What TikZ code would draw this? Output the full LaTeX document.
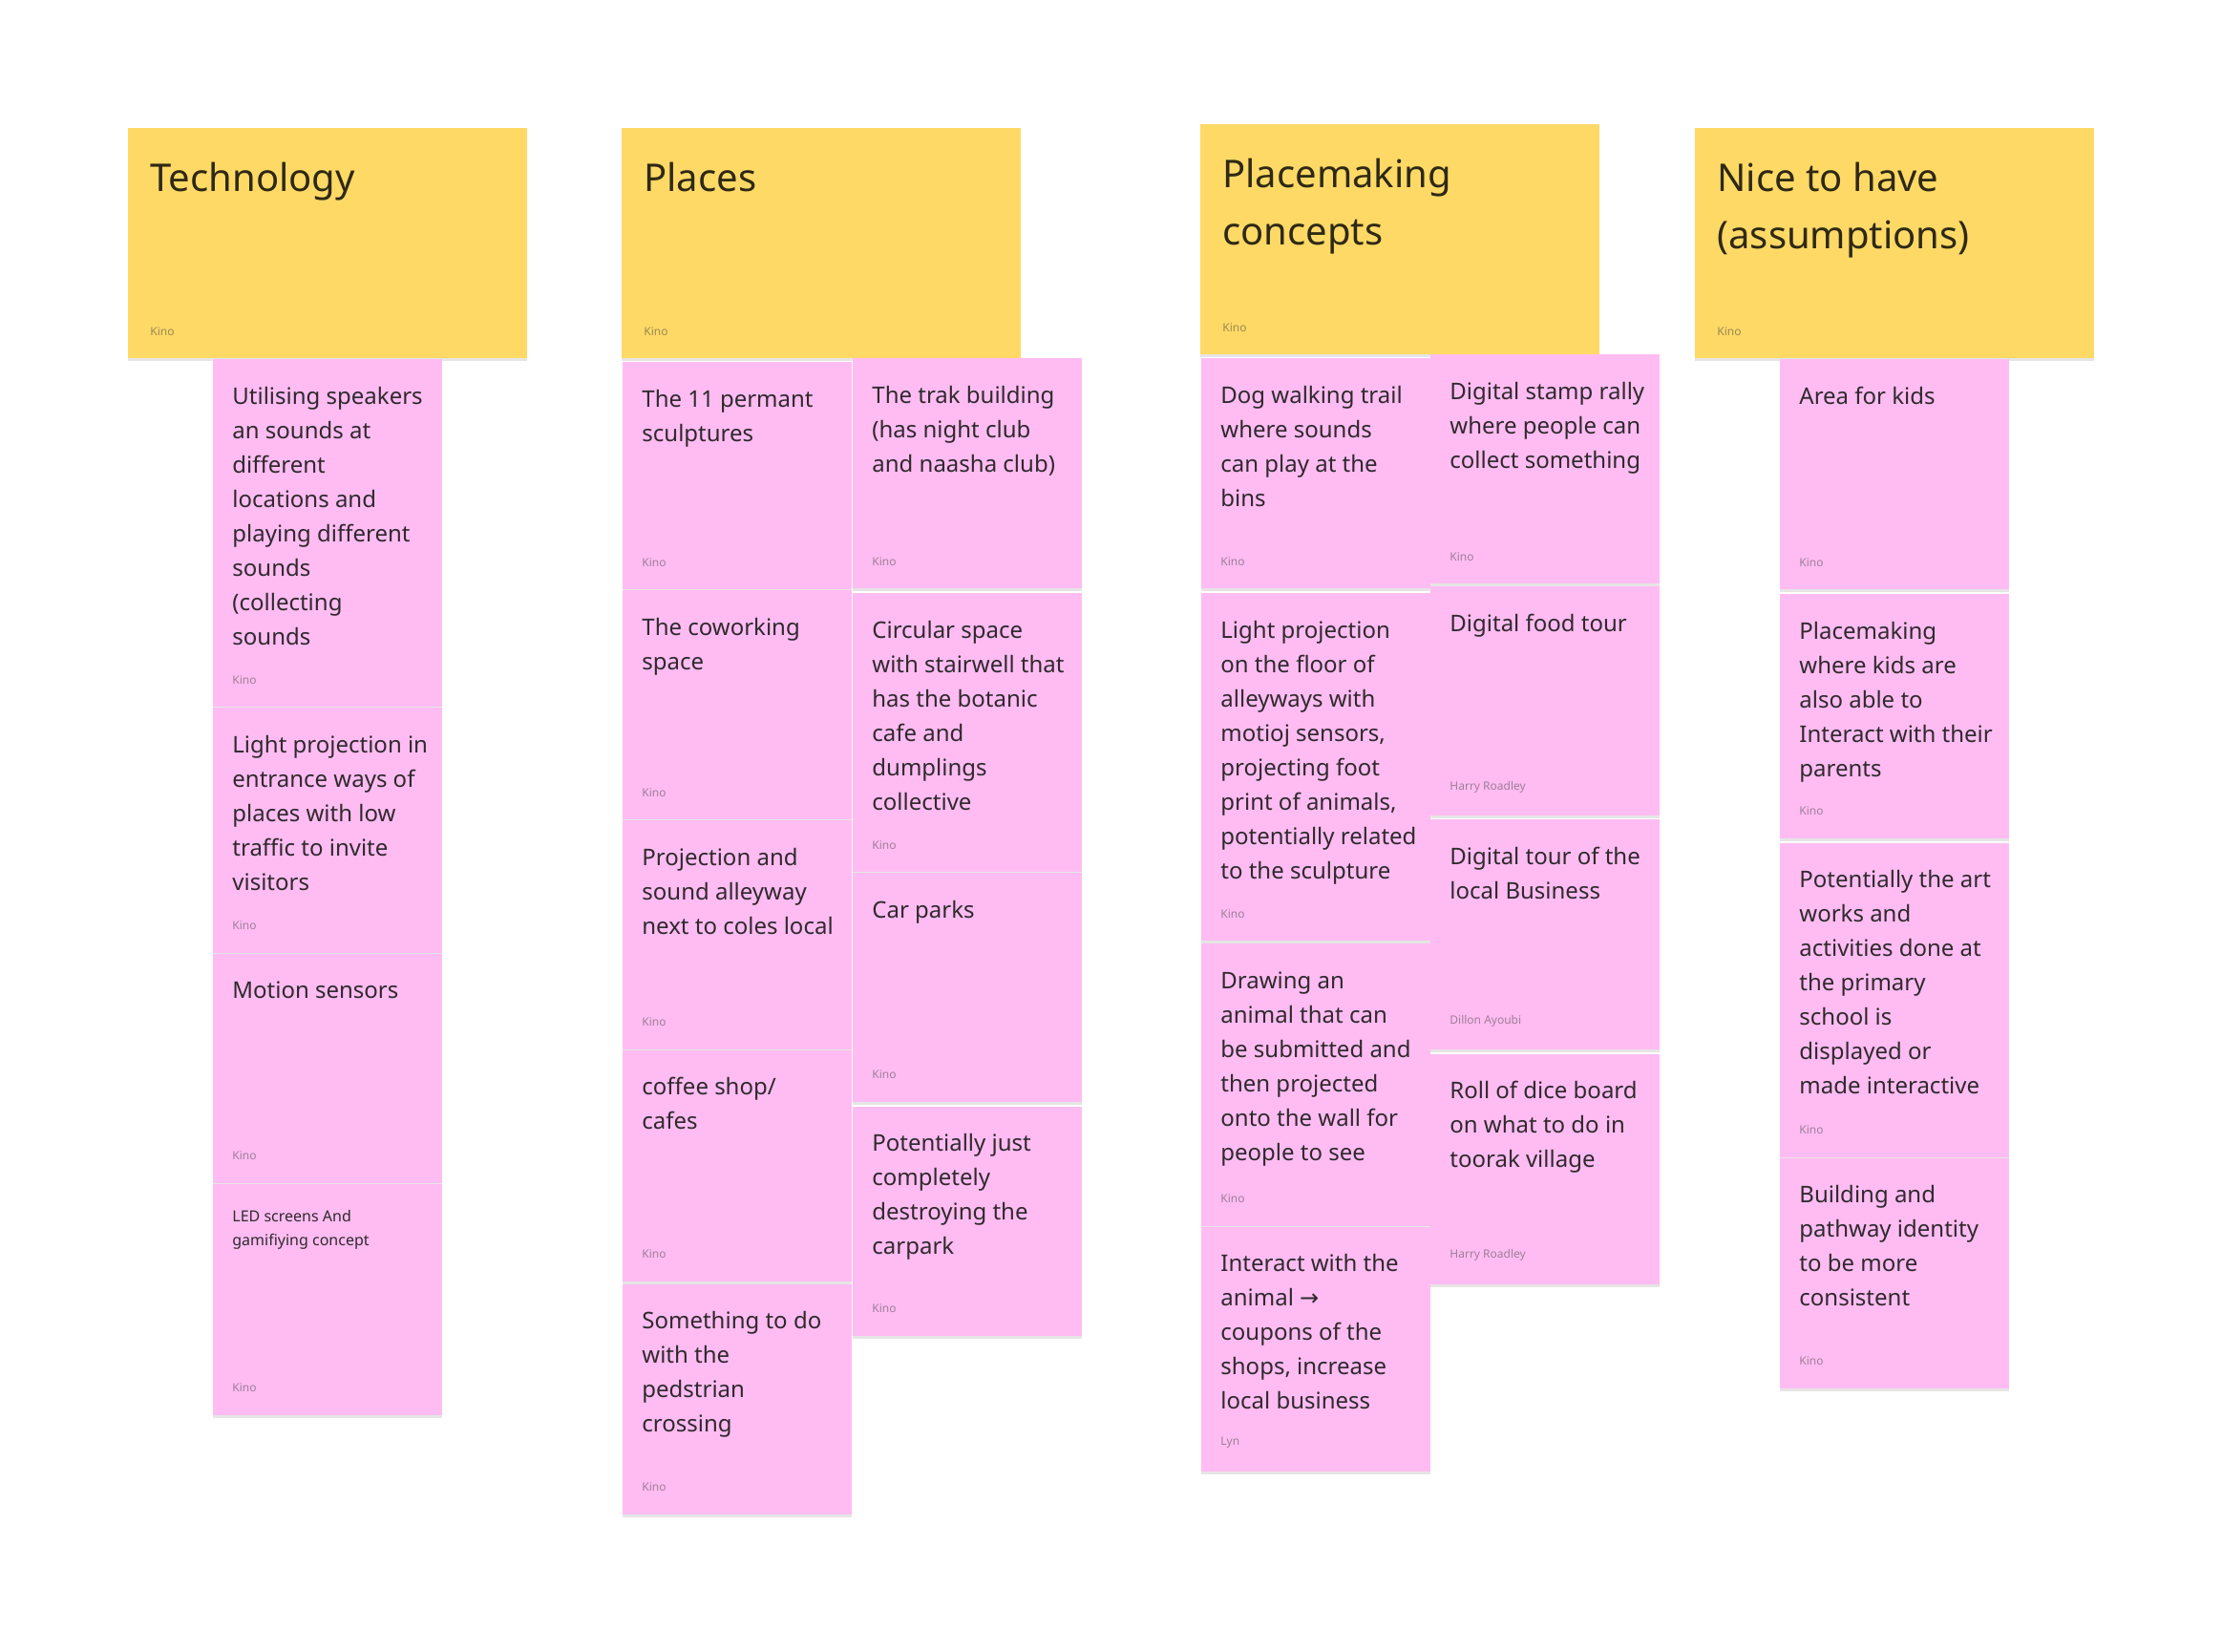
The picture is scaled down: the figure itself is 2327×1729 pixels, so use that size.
\documentclass[tikz,border=0pt]{standalone}
\usepackage{fontspec}
\setmainfont{Noto Sans}
\newfontfamily\arrowfont{DejaVu Sans}
\usetikzlibrary{positioning, shadows}
\definecolor{Sticky}{HTML}{FFD966}
\definecolor{Petal}{HTML}{FFBCF2}
\definecolor{Ink}{HTML}{2E2A2E}
\definecolor{HeadInk}{HTML}{2E2914}
\definecolor{PetalDim}{HTML}{9E7F99}
\definecolor{StickyDim}{HTML}{9A8A52}

\newcommand{\bodyfont}{\fontsize{12}{18}\selectfont}
\newcommand{\titlefont}{\fontsize{20}{30}\selectfont}
\newcommand{\whofont}{\fontsize{6}{7.5}\selectfont}
\newcommand{\ledfont}{\fontsize{8}{12.5}\selectfont}

% pink card: [first baseline]{height}{text}{author}
\newcommand{\card}[4][23.5pt]{\makebox[120pt][l]{\hspace{10pt}\parbox[b][#2][s]{108pt}{\raggedright\bodyfont\rule{0pt}{#1}#3\par\vfill{\whofont\leavevmode\color{PetalDim}#4\par}\vspace{12pt}}}}
% yellow column header: {height}{title}{author}
\newcommand{\headcard}[3]{\makebox[209pt][l]{\hspace{11.5pt}\parbox[b][#1][s]{190pt}{\raggedright\titlefont\rule{0pt}{33pt}#2\par\vfill{\whofont\leavevmode\color{StickyDim}#3\par}\vspace{12pt}}}}

\begin{document}
\begin{tikzpicture}[
    x=0.5pt, y=-0.5pt,
    headnote/.style={
        fill=Sticky,
        inner sep=0pt,
        anchor=north west,
        text=HeadInk,
        drop shadow={shadow xshift=0pt, shadow yshift=-1.5pt, opacity=0.10, fill=black}
    },
    pinknote/.style={
        fill=Petal,
        inner sep=0pt,
        anchor=north west,
        text=Ink,
        drop shadow={shadow xshift=0pt, shadow yshift=-1.5pt, opacity=0.10, fill=black}
    }
]
    \fill[white] (0,0) rectangle (2327,1729);
    \useasboundingbox (0,0) rectangle (2327,1729);

    % Technology
    \node[headnote] (tech) at (134,134) {\headcard{120.5pt}{Technology}{Kino}};
    \node[pinknote, below=0pt of tech] (t1) {\card{182pt}{Utilising speakers\\an sounds at\\different\\locations and\\playing different\\sounds\\(collecting\\sounds}{Kino}};
    \node[pinknote, below=0pt of t1] (t2) {\card{128.5pt}{Light projection in\\entrance ways of\\places with low\\traffic to invite\\visitors}{Kino}};
    \node[pinknote, below=0pt of t2] (t3) {\card{120pt}{Motion sensors}{Kino}};
    \node[pinknote, below=0pt of t3] (t4) {\card[20pt]{121pt}{\ledfont LED screens And\\gamifiying concept}{Kino}};

    % Places
    \node[headnote] (places) at (651,134) {\headcard{120.5pt}{Places}{Kino}};
    \node[pinknote] (p1) at (652,379) {\card{119pt}{The 11 permant\\sculptures}{Kino}};
    \node[pinknote, below=0pt of p1] (p2) {\card{120pt}{The coworking\\space}{Kino}};
    \node[pinknote, below=0pt of p2] (p3) {\card{120pt}{Projection and\\sound alleyway\\next to coles local}{Kino}};
    \node[pinknote, below=0pt of p3] (p4) {\card{121pt}{coffee shop/\\cafes}{Kino}};
    \node[pinknote, below=1pt of p4] (p5) {\card{120.5pt}{Something to do\\with the\\pedstrian\\crossing}{Kino}};
    \node[pinknote] (q1) at (893,375) {\card{120.5pt}{The trak building\\(has night club\\and naasha club)}{Kino}};
    \node[pinknote, below=2pt of q1] (q2) {\card{146pt}{Circular space\\with stairwell that\\has the botanic\\cafe and\\dumplings\\collective}{Kino}};
    \node[pinknote, below=0pt of q2] (q3) {\card{120pt}{Car parks}{Kino}};
    \node[pinknote, below=2pt of q3] (q4) {\card{120pt}{Potentially just\\completely\\destroying the\\carpark}{Kino}};

    % Placemaking concepts
    \node[headnote] (making) at (1257,130) {\headcard{120.5pt}{Placemaking\\concepts}{Kino}};
    \node[pinknote] (m1) at (1258,375) {\card{120.5pt}{Dog walking trail\\where sounds\\can play at the\\bins}{Kino}};
    \node[pinknote, below=2pt of m1] (m2) {\card{182pt}{Light projection\\on the floor of\\alleyways with\\motioj sensors,\\projecting foot\\print of animals,\\potentially related\\to the sculpture}{Kino}};
    \node[pinknote, below=1pt of m2] (m3) {\card{148pt}{Drawing an\\animal that can\\be submitted and\\then projected\\onto the wall for\\people to see}{Kino}};
    \node[pinknote, below=0pt of m3] (m4) {\card{128pt}{Interact with the\\animal {\arrowfont →}\\coupons of the\\shops, increase\\local business}{Lyn}};
    \node[pinknote] (n1) at (1498,371) {\card{120pt}{Digital stamp rally\\where people can\\collect something}{Kino}};
    \node[pinknote, below=1pt of n1] (n2) {\card{120pt}{Digital food tour}{Harry Roadley}};
    \node[pinknote, below=1.5pt of n2] (n3) {\card{120.5pt}{Digital tour of the\\local Business}{Dillon Ayoubi}};
    \node[pinknote, below=2pt of n3] (n4) {\card{120.5pt}{Roll of dice board\\on what to do in\\toorak village}{Harry Roadley}};

    % Nice to have
    \node[headnote] (nice) at (1775,134) {\headcard{120.5pt}{Nice to have\\(assumptions)}{Kino}};
    \node[pinknote, below=0pt of nice] (k1) {\card{120.5pt}{Area for kids}{Kino}};
    \node[pinknote, below=2pt of k1] (k2) {\card{128pt}{Placemaking\\where kids are\\also able to\\Interact with their\\parents}{Kino}};
    \node[pinknote, below=2pt of k2] (k3) {\card{164.5pt}{Potentially the art\\works and\\activities done at\\the primary\\school is\\displayed or\\made interactive}{Kino}};
    \node[pinknote, below=0pt of k3] (k4) {\card{120.5pt}{Building and\\pathway identity\\to be more\\consistent}{Kino}};
\end{tikzpicture}
\end{document}
